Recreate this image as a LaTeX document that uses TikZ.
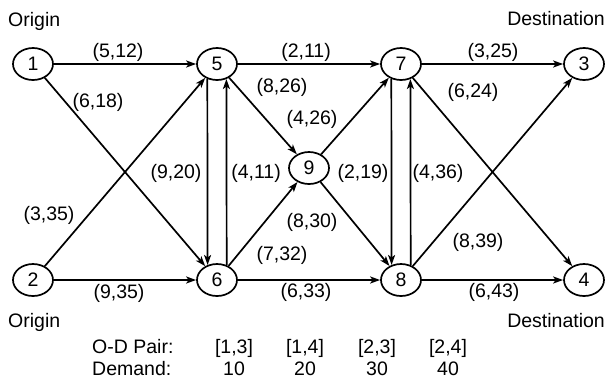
\documentclass[tikz,border=0pt]{standalone}
\usepackage{fontspec}
\setmainfont{Liberation Sans}
\usetikzlibrary{arrows.meta,shapes.geometric}
\begin{document}
\begin{tikzpicture}[x=1pt,y=-1pt,
  every node/.style={font=\fontsize{19.5}{23}\selectfont},
  nd/.style={draw,ellipse,line width=1.7pt,minimum width=40pt,minimum height=32pt,inner sep=0pt},
  lbl/.style={inner sep=0pt},
  arc/.style={line width=1.7pt,-{Stealth[length=10pt,width=7pt,inset=2.5pt]}}]
\useasboundingbox (0,0) rectangle (609,383);
% nodes
\node[nd] (n1) at (33,64) {1};
\node[nd] (n5) at (217,64) {5};
\node[nd] (n7) at (401,64) {7};
\node[nd] (n3) at (584,64) {3};
\node[nd] (n9) at (309,168) {9};
\node[nd] (n2) at (33,280) {2};
\node[nd] (n6) at (217,280) {6};
\node[nd] (n8) at (401,280) {8};
\node[nd] (n4) at (584,280) {4};
% connectors
\draw[arc] (n1) -- (n5);
\draw[arc] (n1) -- (n6);
\draw[arc] (n2) -- (n5);
\draw[arc] (n2) -- (n6);
\draw[arc] (n5) -- (n7);
\draw[arc] (n5) -- (n9);
\draw[arc] (n6) -- (n9);
\draw[arc] (n6) -- (n8);
\draw[arc] (n9) -- (n7);
\draw[arc] (n9) -- (n8);
\draw[arc] (n7) -- (n3);
\draw[arc] (n7) -- (n4);
\draw[arc] (n8) -- (n3);
\draw[arc] (n8) -- (n4);
\draw[arc] (n5.237.8) -- (n6.122.2);
\draw[arc] (n6.57.8) -- (n5.302.2);
\draw[arc] (n7.237.8) -- (n8.122.2);
\draw[arc] (n8.57.8) -- (n7.302.2);
% edge labels
\node[lbl] (l15) at (118,52) {(5,12)};
\node[lbl] (l16) at (98,102) {(6,18)};
\node[lbl] (l57) at (306,52) {(2,11)};
\node[lbl] (l59) at (282,87) {(8,26)};
\node[lbl] (l73) at (493,52) {(3,25)};
\node[lbl] (l74) at (473,92) {(6,24)};
\node[lbl] (l97) at (312,119) {(4,26)};
\node[lbl] (l56) at (176,173) {(9,20)};
\node[lbl] (l65) at (256,173) {(4,11)};
\node[lbl] (l78) at (363,173) {(2,19)};
\node[lbl] (l87) at (438,173) {(4,36)};
\node[lbl] (l25) at (49,215) {(3,35)};
\node[lbl] (l98) at (312,222) {(8,30)};
\node[lbl] (l83) at (478,242) {(8,39)};
\node[lbl] (l69) at (282,255) {(7,32)};
\node[lbl] (l26) at (119,293) {(9,35)};
\node[lbl] (l68) at (306,292) {(6,33)};
\node[lbl] (l84) at (494,292) {(6,43)};
% side texts
\node[lbl,anchor=base west] (o1) at (8,26) {Origin};
\node[lbl,anchor=base east] (d1) at (605,25) {Destination};
\node[lbl,anchor=base west] (o2) at (8,327) {Origin};
\node[lbl,anchor=base east] (d2) at (605,327) {Destination};
% table
\node[lbl,anchor=base west] (tp) at (92,353) {O-D Pair:};
\node[lbl,anchor=base west] (td) at (92,375) {Demand:};
\node[lbl,anchor=base] (p1) at (234,353) {[1,3]};
\node[lbl,anchor=base] (p2) at (305,353) {[1,4]};
\node[lbl,anchor=base] (p3) at (377,353) {[2,3]};
\node[lbl,anchor=base] (p4) at (448,353) {[2,4]};
\node[lbl,anchor=base] (q1) at (234,375) {10};
\node[lbl,anchor=base] (q2) at (305,375) {20};
\node[lbl,anchor=base] (q3) at (377,375) {30};
\node[lbl,anchor=base] (q4) at (448,375) {40};
\end{tikzpicture}
\end{document}
